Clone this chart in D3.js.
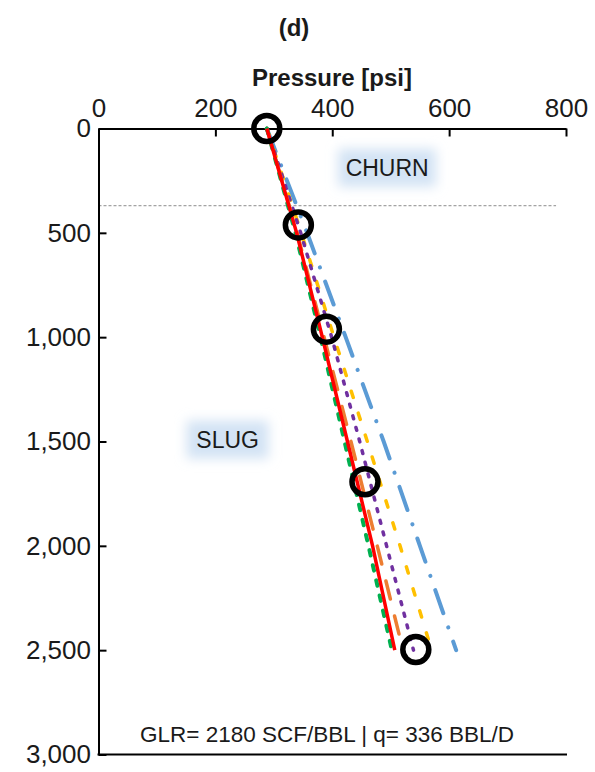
<!DOCTYPE html>
<html>
<head>
<meta charset="utf-8">
<script src="https://cdn.jsdelivr.net/npm/d3@7/dist/d3.min.js"></script>
<style>
  html, body { margin: 0; padding: 0; background: #fff; }
  svg { display: block; font-family: "Liberation Sans", Arial, sans-serif; }
</style>
</head>
<body>
<svg id="chart" width="595" height="772"></svg>
<script>
// Depth stations (ft) where each pressure traverse is sampled
const depths = [0, 500, 1000, 1500, 2000, 2500];

// Pressure [psi] of each correlation along the well
const seriesBlue   = [288, 357, 423, 488, 550, 612];
const seriesYellow = [288, 347, 403, 460, 516, 570];
const seriesPurple = [288, 346, 399, 447, 493, 539];
const seriesOrange = [288, 340, 386, 432, 477, 521];
const seriesGreen  = [288, 337, 380, 421, 462, 502];
const seriesRed    = [288, 339, 383, 426, 469, 507];

// Measured gauge points
const measuredDepth    = [0, 462, 962, 1693, 2497];
const measuredPressure = [288, 342, 390, 456, 543];

// Flow-regime boundary
const boundaryDepth = 370;
const boundaryPressure = [0, 783];

const xTicks = [0, 200, 400, 600, 800];
const yTicks = [0, 500, 1000, 1500, 2000, 2500, 3000];

const svg = d3.select("#chart");
const x = d3.scaleLinear().domain([0, 800]).range([98.5, 566]);
const y = d3.scaleLinear().domain([0, 3000]).range([128.5, 754.5]);

const defs = svg.append("defs");
defs.append("filter").attr("id", "soft")
  .attr("x", "-40%").attr("y", "-80%").attr("width", "180%").attr("height", "260%")
  .append("feGaussianBlur").attr("stdDeviation", 6);

// Regime labels with soft highlight
function regionLabel(text, p, d, w, h) {
  const g = svg.append("g");
  g.append("rect")
    .attr("x", x(p) - w / 2).attr("y", y(d) - h / 2)
    .attr("width", w).attr("height", h)
    .attr("fill", "#d3e3f4").attr("filter", "url(#soft)");
  g.append("text")
    .attr("x", x(p)).attr("y", y(d))
    .attr("text-anchor", "middle").attr("dominant-baseline", "central")
    .attr("font-size", 23).attr("fill", "#1a1a1a")
    .text(text);
}
regionLabel("CHURN", 494, 188, 98, 38);
regionLabel("SLUG", 221, 1491, 82, 38);

// Boundary between regimes
svg.append("line")
  .attr("x1", x(boundaryPressure[0])).attr("x2", x(boundaryPressure[1]))
  .attr("y1", y(boundaryDepth)).attr("y2", y(boundaryDepth))
  .attr("stroke", "#8c8c8c").attr("stroke-width", 1)
  .attr("stroke-dasharray", "3,2");

// Axes
const xAxis = d3.axisTop(x).tickValues(xTicks).tickSize(-8).tickSizeOuter(0).tickPadding(12)
  .tickFormat(d3.format("d"));
const gx = svg.append("g").attr("transform", `translate(0,${y(0)})`).call(xAxis);
gx.selectAll("text").attr("font-size", 26).attr("fill", "#1a1a1a")
  .attr("font-family", "Liberation Sans, Arial, sans-serif");

const yAxis = d3.axisLeft(y).tickValues(yTicks).tickSize(-8).tickSizeOuter(0).tickPadding(7.5)
  .tickFormat(d3.format(","));
const gy = svg.append("g").attr("transform", `translate(${x(0)},0)`).call(yAxis);
gy.selectAll("text").attr("font-size", 26).attr("fill", "#1a1a1a")
  .attr("font-family", "Liberation Sans, Arial, sans-serif");

[gx, gy].forEach(g => {
  g.selectAll(".domain, .tick line").attr("stroke", "#000").attr("stroke-width", 2);
});

svg.append("line")
  .attr("x1", x(0) - 1).attr("x2", x(800) + 1)
  .attr("y1", y(3000)).attr("y2", y(3000))
  .attr("stroke", "#000").attr("stroke-width", 2);

// Traverse curves
const line = d3.line().x(d => x(d[0])).y(d => y(d[1]));
const series = [
  { values: seriesBlue,   color: "#5B9BD5", width: 4,   dash: "24.5,15,0.1,15" },
  { values: seriesYellow, color: "#FFC000", width: 3.5, dash: "6.5,16.5" },
  { values: seriesPurple, color: "#7030A0", width: 3.5, dash: "3,9" },
  { values: seriesOrange, color: "#ED7D31", width: 3.5, dash: "18.5,17.5" },
  { values: seriesGreen,  color: "#00B050", width: 4,   dash: "5.5,10" },
  { values: seriesRed,    color: "#FF0000", width: 3.5, dash: null }
];
series.forEach(s => {
  svg.append("path")
    .datum(s.values.map((p, i) => [p, depths[i]]))
    .attr("d", line)
    .attr("fill", "none")
    .attr("stroke", s.color)
    .attr("stroke-width", s.width)
    .attr("stroke-linecap", s.dash ? "round" : "butt")
    .attr("stroke-dasharray", s.dash);
});

// Measured points
svg.selectAll("circle.meas")
  .data(measuredPressure.map((p, i) => [p, measuredDepth[i]]))
  .join("circle")
  .attr("class", "meas")
  .attr("cx", d => x(d[0])).attr("cy", d => y(d[1]))
  .attr("r", 13)
  .attr("fill", "none").attr("stroke", "#000").attr("stroke-width", 5.5);

// Titles and annotation
svg.append("text")
  .attr("x", 294).attr("y", 36)
  .attr("text-anchor", "middle").attr("font-weight", "bold").attr("font-size", 24)
  .attr("fill", "#1a1a1a")
  .text("(d)");

svg.append("text")
  .attr("x", 332).attr("y", 86)
  .attr("text-anchor", "middle").attr("font-weight", "bold").attr("font-size", 24)
  .attr("fill", "#1a1a1a")
  .text("Pressure [psi]");

svg.append("text")
  .attr("x", 327).attr("y", 742)
  .attr("text-anchor", "middle").attr("font-size", 22.5)
  .attr("fill", "#1a1a1a")
  .text("GLR= 2180 SCF/BBL | q= 336 BBL/D");
</script>
</body>
</html>
